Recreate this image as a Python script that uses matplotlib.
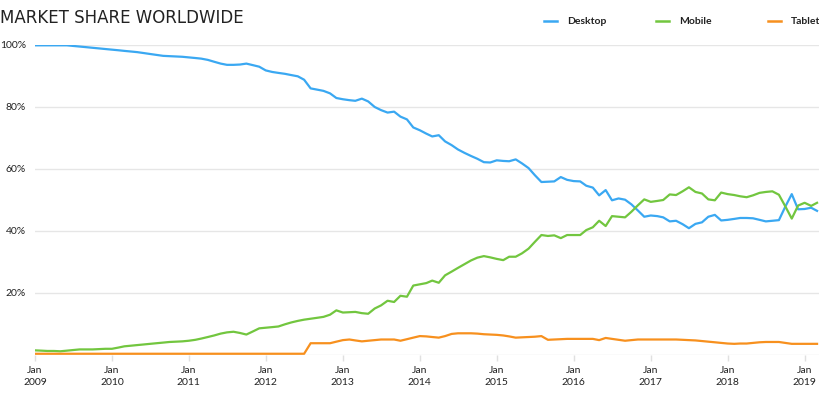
import matplotlib
matplotlib.use("Agg")
import matplotlib.pyplot as plt
from matplotlib.lines import Line2D
import pandas as pd

months = pd.date_range("2009-01-01", "2019-03-01", freq="MS")

desktop = [99.9, 99.9, 99.9, 99.9, 99.9, 99.9, 99.7, 99.5, 99.3, 99.1,
           98.9, 98.7, 98.5, 98.3, 98.1, 97.9, 97.7, 97.4, 97.1, 96.8,
           96.5, 96.4, 96.3, 96.2, 96.0, 95.8, 95.6, 95.2, 94.6, 94.0,
           93.6, 93.6, 93.7, 94.0, 93.5, 93.0, 91.8, 91.3, 91.0, 90.7,
           90.3, 89.9, 88.8, 86.0, 85.6, 85.2, 84.4, 82.9, 82.5, 82.2,
           82.0, 82.7, 81.8, 80.0, 79.0, 78.2, 78.5, 76.9, 76.0, 73.4,
           72.5, 71.4, 70.5, 70.9, 68.9, 67.7, 66.3, 65.2, 64.2, 63.3,
           62.2, 62.1, 62.8, 62.6, 62.5, 63.1, 61.8, 60.3, 58.0, 55.8,
           55.9, 56.0, 57.4, 56.5, 56.1, 56.0, 54.6, 54.0, 51.5, 53.2,
           49.9, 50.5, 50.1, 48.6, 46.6, 44.6, 45.0, 44.8, 44.4, 43.1,
           43.3, 42.2, 40.9, 42.3, 42.8, 44.6, 45.2, 43.4, 43.6, 43.9,
           44.2, 44.2, 44.1, 43.6, 43.1, 43.3, 43.5, 47.8, 51.9, 47.0,
           47.1, 47.5, 46.5]

mobile = [1.5, 1.4, 1.3, 1.3, 1.2, 1.4, 1.6, 1.8, 1.8, 1.8,
          1.9, 2.0, 2.0, 2.4, 2.8, 3.0, 3.2, 3.4, 3.6, 3.8,
          4.0, 4.2, 4.3, 4.4, 4.6, 4.9, 5.3, 5.8, 6.3, 6.9,
          7.3, 7.5, 7.1, 6.6, 7.6, 8.6, 8.8, 9.0, 9.2, 9.9,
          10.5, 11.0, 11.4, 11.7, 12.0, 12.3, 13.0, 14.4, 13.7, 13.8,
          13.9, 13.5, 13.3, 15.0, 16.0, 17.5, 17.1, 19.1, 18.8, 22.4,
          22.8, 23.2, 24.0, 23.3, 25.7, 26.9, 28.1, 29.3, 30.5, 31.4,
          31.9, 31.5, 31.0, 30.6, 31.7, 31.7, 32.8, 34.3, 36.5, 38.7,
          38.4, 38.6, 37.7, 38.7, 38.7, 38.7, 40.3, 41.2, 43.3, 41.6,
          44.8, 44.6, 44.4, 46.2, 48.3, 50.2, 49.4, 49.7, 50.0, 51.8,
          51.6, 52.8, 54.1, 52.6, 52.1, 50.2, 49.9, 52.4, 51.9, 51.6,
          51.2, 50.9, 51.5, 52.3, 52.6, 52.8, 51.7, 48.0, 44.0, 48.2,
          49.1, 48.1, 49.1]

tablet = [0.4] * 43 + [
          3.8, 3.8, 3.8, 3.8, 4.3, 4.8, 5.0, 4.7, 4.4, 4.6,
          4.8, 5.0, 5.0, 5.0, 4.6, 5.1, 5.6, 6.1, 6.0, 5.8,
          5.6, 6.1, 6.8, 7.0, 7.0, 7.0, 6.9, 6.7, 6.6, 6.5,
          6.3, 6.0, 5.6, 5.7, 5.8, 5.9, 6.1, 4.9, 5.0, 5.1,
          5.2, 5.2, 5.2, 5.2, 5.2, 4.8, 5.5, 5.2, 4.9, 4.6,
          4.8, 5.0, 5.0, 5.0, 5.0, 5.0, 5.0, 5.0, 4.9, 4.8,
          4.7, 4.5, 4.3, 4.1, 3.9, 3.7, 3.6, 3.7, 3.7, 3.9,
          4.1, 4.2, 4.2, 4.2, 3.9, 3.6, 3.6, 3.6, 3.6, 3.6]

series_names = ["Desktop", "Mobile", "Tablet"]
series_values = [desktop, mobile, tablet]
colors = ["#3aa8f2", "#72c63f", "#f7901e"]

years = list(range(2009, 2020))
tick_dates = [pd.Timestamp(f"{y}-01-01") for y in years]
tick_labels = [f"Jan\n{y}" for y in years]
y_ticks = [0, 20, 40, 60, 80, 100]
y_labels = ["", "20%", "40%", "60%", "80%", "100%"]

font = "Lato"
fig = plt.figure(figsize=(8.2, 3.97), dpi=100)
ax = fig.add_axes([35 / 820, 42 / 397, 785 / 820, 310 / 397])

for name, vals, c in zip(series_names, series_values, colors):
    ax.plot(months, vals, color=c, lw=1.6, solid_joinstyle="round", zorder=3)

ax.set_ylim(0, 100)
ax.set_xlim(pd.Timestamp("2009-01-01"), pd.Timestamp("2019-03-15"))
ax.set_yticks(y_ticks)
ax.set_yticklabels(y_labels, fontfamily=font, fontsize=7.5, color="#222222")
ax.set_xticks(tick_dates)
ax.set_xticklabels(tick_labels, fontfamily=font, fontsize=7.5, color="#222222",
                   linespacing=1.4)
ax.tick_params(axis="y", length=0, pad=6.5)
ax.tick_params(axis="x", length=4.5, color="#e0e0e0", width=1, pad=3.5)
ax.grid(axis="y", color="#e6e6e6", lw=1)
ax.set_axisbelow(True)
for s in ax.spines.values():
    s.set_visible(False)

fig.text(0.0, 1 - 18 / 397, "MARKET SHARE WORLDWIDE", fontfamily="DejaVu Sans",
         fontsize=12, color="#222222", va="center", ha="left")

leg_x = [544, 656, 768]
for x0, name, c in zip(leg_x, series_names, colors):
    fig.add_artist(Line2D([x0 / 820, (x0 + 13) / 820], [1 - 21 / 397] * 2,
                          color=c, lw=1.8, transform=fig.transFigure))
    fig.text((x0 + 23) / 820, 1 - 21 / 397, name, fontfamily=font,
             fontsize=7.5, fontweight="bold", color="#222222",
             va="center", ha="left")

fig.savefig("out.png", dpi=100)
